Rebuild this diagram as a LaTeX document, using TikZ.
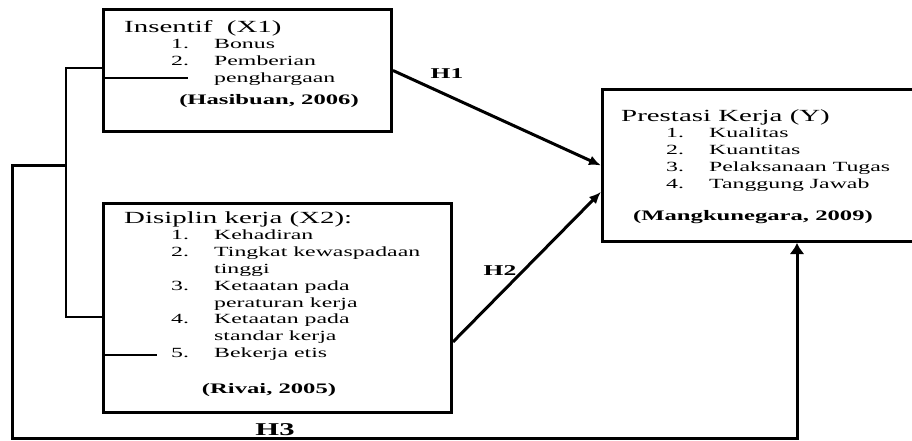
\documentclass[tikz,border=0pt]{standalone}
\usepackage{fontspec}
\setmainfont{Liberation Serif}[FakeStretch=1.7]
\usepackage{array}
\usetikzlibrary{arrows.meta,calc}

\begin{document}
\begin{tikzpicture}[x=1pt,y=-1pt]
			\tikzstyle{box}=[draw, line width=3pt, inner sep=0pt, anchor=north west]
			\tikzstyle{txt}=[inner sep=0pt, anchor=base west, font=\fontsize{14}{16.8}\selectfont]
			\tikzstyle{src}=[inner sep=0pt, anchor=base, font=\fontsize{14.5}{17}\selectfont\bfseries]
			\tikzstyle{hlab}=[inner sep=0pt, anchor=base, font=\fontsize{15}{17}\selectfont\bfseries]
			\tikzstyle{conn}=[line width=3pt, -{Latex[length=12pt,width=10pt]}]
			\tikzstyle{thinln}=[line width=1.2pt]
			\newcommand{\ttl}{\fontsize{17}{20}\selectfont}
			\useasboundingbox (0,0) rectangle (912,440);
			% boxes
			\node[box, minimum width=288pt, minimum height=122pt] (x1) at (102,8) {};
			\node[box, minimum width=348pt, minimum height=209pt] (x2) at (102,202) {};
			\node[box, minimum width=315pt, minimum height=152pt] (y) at (601,88) {};
			% box texts
			\node[txt] (x1list) at (124,32) {%
				\begin{tabular}[t]{@{\hspace{47pt}}p{43pt}@{}l@{}}
				\multicolumn{2}{@{}l@{}}{\ttl Insentif\ \ (X1)}\\
				1. & Bonus\\
				2. & Pemberian\\
				   & penghargaan
				\end{tabular}};
			\node[src] (x1src) at (269,104) {(Hasibuan, 2006)};
			\node[txt] (x2list) at (124,223) {%
				\begin{tabular}[t]{@{\hspace{47pt}}p{43pt}@{}l@{}}
				\multicolumn{2}{@{}l@{}}{\ttl Disiplin kerja (X2):}\\
				1. & Kehadiran\\
				2. & Tingkat kewaspadaan\\
				   & tinggi\\
				3. & Ketaatan pada\\
				   & peraturan kerja\\
				4. & Ketaatan pada\\
				   & standar kerja\\
				5. & Bekerja etis
				\end{tabular}};
			\node[src] (x2src) at (269,393) {(Rivai, 2005)};
			\node[txt] (ylist) at (621,121) {%
				\begin{tabular}[t]{@{\hspace{45pt}}p{43pt}@{}l@{}}
				\multicolumn{2}{@{}l@{}}{\ttl Prestasi Kerja (Y)}\\
				1. & Kualitas\\
				2. & Kuantitas\\
				3. & Pelaksanaan Tugas\\
				4. & Tanggung Jawab
				\end{tabular}};
			\node[src] (ysrc) at (753,220) {(Mangkunegara, 2009)};
			% bracket and stray lines
			\coordinate (brtop) at (66,68);
			\coordinate (brmid) at (66,165);
			\coordinate (brbot) at (66,317);
			\coordinate (s1) at (188,78);
			\coordinate (s2) at (157,355);
			\draw[thinln] (x1.west |- brtop) -- (brtop) -- (brbot) -- (x2.west |- brbot);
			\draw[thinln] (x1.west |- s1) -- (s1);
			\draw[thinln] (x2.west |- s2) -- (s2);
			% hypotheses
			\draw[conn] (x1.east) -- (y.west);
			\draw[conn] ($(x2.south east)!0.34!(x2.north east)$) -- ($(y.south west)!0.33!(y.north west)$);
			\coordinate (h3l) at (12,438);
			\coordinate (h3r) at (797,438);
			\draw[conn, -{Latex[length=11pt,width=15pt]}] (brmid) -| (h3l) -- (h3r) -- (h3r |- y.south);
			\node[hlab] (h1) at (447,78) {H1};
			\node[hlab] (h2) at (500,275) {H2};
			\node[hlab, font=\fontsize{18}{20}\selectfont\bfseries] (h3) at (275,435) {H3};
		\end{tikzpicture}
\end{document}
